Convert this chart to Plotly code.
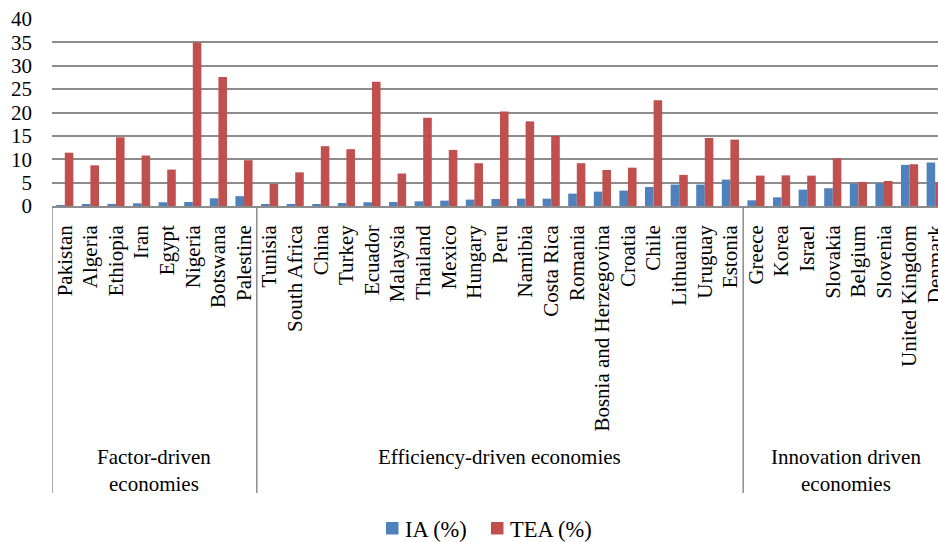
import plotly.graph_objects as go

# Countries grouped by economic development stage
factor_driven = ["Pakistan", "Algeria", "Ethiopia", "Iran", "Egypt", "Nigeria", "Botswana", "Palestine"]
efficiency_driven = ["Tunisia", "South Africa", "China", "Turkey", "Ecuador", "Malaysia", "Thailand",
                     "Mexico", "Hungary", "Peru", "Namibia", "Costa Rica", "Romania",
                     "Bosnia and Herzegovina", "Croatia", "Chile", "Lithuania", "Uruguay", "Estonia"]
innovation_driven = ["Greece", "Korea", "Israel", "Slovakia", "Belgium", "Slovenia", "United Kingdom", "Denmark"]

group_names = ["Factor-driven<br>economies", "Efficiency-driven economies", "Innovation driven<br>economies"]
groups = [factor_driven, efficiency_driven, innovation_driven]
countries = factor_driven + efficiency_driven + innovation_driven

# Informal investment activity (%)
ia_values = [0.1, 0.43, 0.45, 0.58, 0.8, 0.86, 1.65, 2.1,
             0.35, 0.3, 0.36, 0.65, 0.8, 0.86, 1.0, 1.15, 1.37, 1.5, 1.57, 1.57, 2.65, 3.08, 3.3,
             4.07, 4.58, 4.58, 5.65,
             1.22, 1.86, 3.5, 3.8, 4.8, 4.86, 8.8, 9.3]
# Total early-stage entrepreneurial activity (%)
tea_values = [11.4, 8.7, 14.7, 10.8, 7.8, 35.0, 27.6, 9.8,
              4.7, 7.2, 12.8, 12.15, 26.6, 6.95, 18.9, 12.0, 9.15, 20.2, 18.1, 15.0, 9.15, 7.7, 8.2,
              22.6, 6.65, 14.55, 14.2,
              6.5, 6.55, 6.5, 10.2, 5.15, 5.35, 8.93, 5.1]

series_names = ["IA (%)", "TEA (%)"]
y_ticks = [0, 5, 10, 15, 20, 25, 30, 35, 40]

FONT = "Liberation Serif"
BLUE = "#4F81BD"
RED = "#C0504D"
GRID = "#8C8C8C"

W, H = 938, 542
ML, MR, MT, MB = 52, 0, 19, 336
PW, PH = W - ML - MR, H - MT - MB


def px_x(p):
    """Horizontal pixel position -> paper coordinate."""
    return (p - ML) / PW


def px_y(p):
    """Vertical pixel position (from top) -> paper coordinate."""
    return (H - MB - p) / PH


fig = go.Figure()
fig.add_trace(go.Bar(name=series_names[0], x=countries, y=ia_values,
                     marker=dict(color=BLUE, line=dict(width=0))))
fig.add_trace(go.Bar(name=series_names[1], x=countries, y=tea_values,
                     marker=dict(color=RED, line=dict(width=0))))

# Group separators and group labels beneath the country names
bounds = [-0.5]
for g in groups:
    bounds.append(bounds[-1] + len(g))
shapes = []
for b in bounds[:-1]:
    shapes.append(dict(type="line", xref="x", yref="paper", x0=b, x1=b, y0=0, y1=px_y(493),
                       line=dict(color=GRID, width=1.5)))
annotations = []
label_y = [470, 457, 470]
for i, name in enumerate(group_names):
    center = (bounds[i] + bounds[i + 1]) / 2
    annotations.append(dict(x=center, y=px_y(label_y[i]), xref="x", yref="paper", text=name,
                            showarrow=False, xanchor="center", yanchor="middle",
                            font=dict(family=FONT, size=21, color="black")))

# Legend below the chart: coloured square followed by the series name
legend_items = [(386, 403, BLUE), (491, 508, RED)]
for (sq_x, txt_x, color), name in zip(legend_items, series_names):
    shapes.append(dict(type="rect", xref="paper", yref="paper",
                       x0=px_x(sq_x), x1=px_x(sq_x + 12.5), y0=px_y(534.5), y1=px_y(522),
                       fillcolor=color, line=dict(width=0)))
    annotations.append(dict(x=px_x(txt_x), y=px_y(529), xref="paper", yref="paper", text=name,
                            showarrow=False, xanchor="left", yanchor="middle",
                            font=dict(family=FONT, size=22.5, color="black")))

fig.update_layout(
    width=W, height=H,
    margin=dict(l=ML, r=MR, t=MT, b=MB, autoexpand=False),
    paper_bgcolor="white", plot_bgcolor="white",
    barmode="group", bargap=0.33, bargroupgap=0.0,
    font=dict(family=FONT, size=21, color="black"),
    shapes=shapes, annotations=annotations,
    showlegend=False,
    xaxis=dict(type="category", range=[-0.5, 34.11], tickangle=-90, showgrid=False,
               showline=True, linecolor=GRID, linewidth=1.5, ticks="", automargin=False,
               tickfont=dict(family=FONT, size=21, color="black"), ticklabelstandoff=9),
    yaxis=dict(range=[0, 40], tickvals=y_ticks, showgrid=True, gridcolor=GRID, gridwidth=1.5,
               zeroline=False, showline=False, ticks="", automargin=False,
               tickfont=dict(family=FONT, size=21, color="black"), ticklabelstandoff=19),
)

fig.write_html("out.html")
